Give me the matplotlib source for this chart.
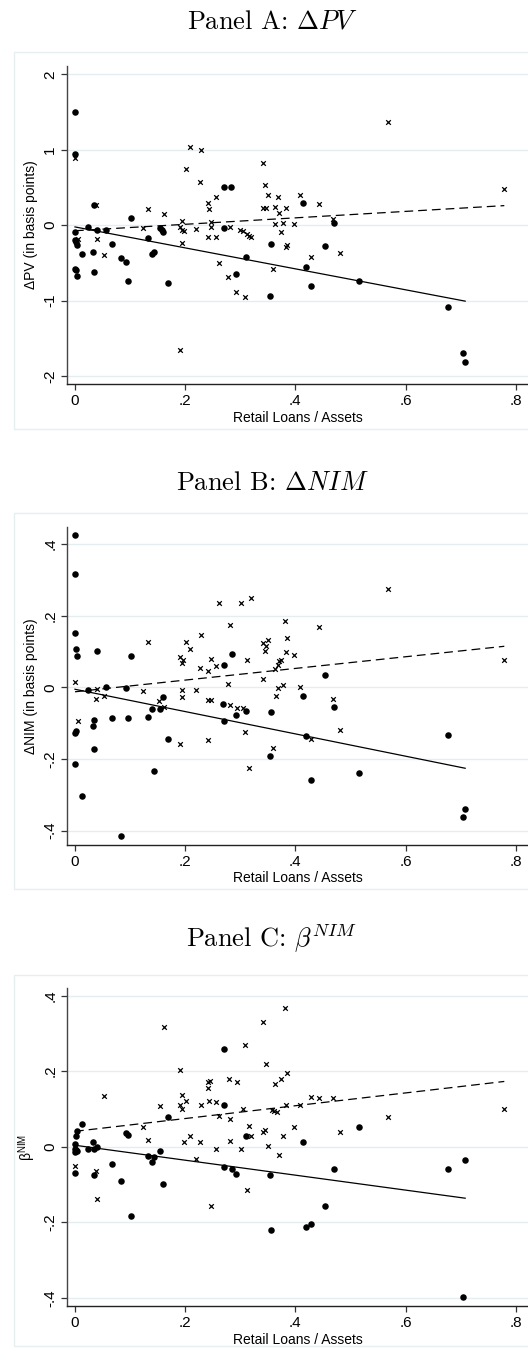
import numpy as np
import matplotlib
matplotlib.use("Agg")
from matplotlib import pyplot as plt
from matplotlib.patches import Rectangle

plt.rcParams['font.family'] = ['Liberation Sans', 'DejaVu Sans']
plt.rcParams['mathtext.fontset'] = 'cm'

# panel A: change in PV
a_dot_x = [0, 0, 0.034, 0.102, 0.270, 0.283, 0.414, 0.470,
           0, 0, 0.002, 0.004, 0, 0.002, 0.003,
           0.013, 0.024, 0.032, 0.034, 0.040, 0.057, 0.067, 0.084, 0.093, 0.097,
           0.132, 0.139, 0.144, 0.154, 0.158, 0.160, 0.168, 0.270, 0.293, 0.310,
           0.354, 0.355, 0.420, 0.429, 0.454, 0.516, 0.677, 0.704, 0.708]
a_dot_y = [1.50, 0.95, 0.27, 0.10, 0.50, 0.51, 0.29, 0.03,
           -0.09, -0.20, -0.22, -0.26, -0.58, -0.60, -0.68,
           -0.38, -0.03, -0.36, -0.62, -0.06, -0.07, -0.25, -0.43, -0.49, -0.74,
           -0.17, -0.38, -0.36, -0.04, -0.07, -0.09, -0.76, -0.04, -0.65, -0.42,
           -0.94, -0.25, -0.55, -0.81, -0.28, -0.74, -1.09, -1.69, -1.82]
a_x_x = [0, 0.039, 0.132, 0.162, 0.201, 0.209, 0.229, 0.226, 0.242, 0.243,
         0.256, 0.341, 0.345, 0.342, 0.346, 0.351, 0.368, 0.363, 0.371, 0.382,
         0.408, 0.443, 0.568, 0.779, 0.363, 0.378, 0.398, 0.195, 0.246, 0.469,
         0.005, 0.040, 0.053, 0.124, 0.190, 0.194, 0.197, 0.194, 0.190, 0.220,
         0.242, 0.255, 0.246, 0.261, 0.278, 0.281, 0.293, 0.308, 0.300, 0.305,
         0.312, 0.316, 0.319, 0.359, 0.374, 0.382, 0.385, 0.428, 0.480]
a_x_y = [0.89, 0.27, 0.22, 0.15, 0.74, 1.03, 1.00, 0.57, 0.30, 0.22,
         0.37, 0.83, 0.53, 0.23, 0.23, 0.40, 0.38, 0.24, 0.16, 0.23,
         0.40, 0.28, 1.37, 0.48, 0.02, 0.03, 0.02, 0.05, 0.04, 0.08,
         -0.18, -0.18, -0.40, -0.04, -0.02, -0.07, -0.08, -0.24, -1.65, -0.05,
         -0.16, -0.16, -0.02, -0.50, -0.69, -0.02, -0.89, -0.95, -0.07, -0.08,
         -0.12, -0.14, -0.15, -0.58, -0.09, -0.29, -0.26, -0.42, -0.37]

# panel B: change in NIM
b_dot_x = [0, 0, 0, 0.002, 0.004, 0.040, 0.102, 0.284, 0.270, 0.454,
           0, 0.001, 0, 0.012, 0.024, 0.032, 0.034, 0.034, 0.057, 0.067, 0.084,
           0.093, 0.097, 0.132, 0.139, 0.144, 0.154, 0.160, 0.168, 0.269, 0.270,
           0.293, 0.310, 0.354, 0.355, 0.414, 0.420, 0.429, 0.470, 0.516, 0.677,
           0.704, 0.708]
b_dot_y = [0.426, 0.316, 0.150, 0.106, 0.087, 0.100, 0.086, 0.093, 0.062, 0.035,
           -0.128, -0.123, -0.214, -0.302, -0.008, -0.107, -0.091, -0.172, 0.002,
           -0.087, -0.416, -0.002, -0.085, -0.084, -0.062, -0.233, -0.060, -0.027,
           -0.145, -0.046, -0.093, -0.078, -0.067, -0.192, -0.069, -0.025, -0.136,
           -0.258, -0.054, -0.238, -0.132, -0.361, -0.340]
b_x_x = [0.132, 0.201, 0.191, 0.196, 0.195, 0.209, 0.229, 0.226, 0.242, 0.246,
         0.255, 0.261, 0.282, 0.302, 0.319, 0.313, 0.341, 0.346, 0.345, 0.351,
         0.381, 0.385, 0.382, 0.398, 0.371, 0.374, 0.368, 0.363, 0.443, 0.568,
         0.779, 0.341,
         0, 0.005, 0.039, 0.040, 0.053, 0.124, 0.153, 0.162, 0.194, 0.194,
         0.190, 0.220, 0.242, 0.247, 0.242, 0.277, 0.281, 0.294, 0.305, 0.308,
         0.315, 0.364, 0.368, 0.378, 0.359, 0.408, 0.428, 0.469, 0.480]
b_x_y = [0.127, 0.125, 0.085, 0.076, 0.068, 0.108, 0.147, 0.054, 0.045, 0.078,
         0.060, 0.235, 0.173, 0.236, 0.250, 0.076, 0.123, 0.115, 0.101, 0.133,
         0.184, 0.138, 0.099, 0.090, 0.073, 0.076, 0.062, 0.050, 0.168, 0.273,
         0.075, 0.022,
         0.014, -0.093, -0.032, -0.005, -0.023, -0.010, -0.037, -0.054, -0.009,
         -0.026, -0.157, -0.008, -0.035, -0.036, -0.148, 0.009, -0.050, -0.058,
         -0.058, -0.124, -0.225, -0.025, -0.002, 0.007, -0.170, 0.002, -0.143,
         -0.033, -0.119]

# panel C: NIM beta
c_dot_x = [0.270, 0.270, 0.168,
           0, 0, 0.001, 0.003, 0, 0, 0.002, 0.004, 0.012, 0.024, 0.032, 0.034,
           0.034, 0.040, 0.067, 0.084, 0.093, 0.097, 0.102, 0.132, 0.139, 0.144,
           0.154, 0.160, 0.270, 0.284, 0.293, 0.310, 0.354, 0.355, 0.414, 0.420,
           0.429, 0.454, 0.470, 0.516, 0.677, 0.708, 0.704]
c_dot_y = [0.258, 0.111, 0.078,
           0.008, -0.005, -0.009, -0.012, -0.013, -0.070, 0.027, 0.042, 0.059,
           -0.006, 0.011, -0.006, -0.075, -0.002, -0.045, -0.090, 0.035, 0.031,
           -0.185, -0.025, -0.042, -0.027, -0.011, -0.098, -0.055, -0.059, -0.072,
           0.029, -0.076, -0.221, 0.011, -0.213, -0.204, -0.157, -0.059, 0.053,
           -0.058, -0.035, -0.398]
c_x_x = [0.162, 0.190, 0.195, 0.201, 0.191, 0.194, 0.154, 0.229, 0.243, 0.256,
         0.242, 0.245, 0.242, 0.280, 0.294, 0.308, 0.341, 0.346, 0.363, 0.373,
         0.385, 0.381, 0.382, 0.305, 0.358, 0.361, 0.367, 0.408, 0.428, 0.443,
         0.469, 0.053, 0.568, 0.779, 0.261, 0.282,
         0, 0.039, 0.040, 0.124, 0.132, 0.197, 0.209, 0.226, 0.220, 0.247,
         0.255, 0.281, 0.301, 0.315, 0.319, 0.312, 0.342, 0.345, 0.351, 0.371,
         0.378, 0.398, 0.480]
c_x_y = [0.316, 0.203, 0.136, 0.120, 0.109, 0.100, 0.108, 0.111, 0.120, 0.118,
         0.170, 0.174, 0.156, 0.180, 0.170, 0.269, 0.330, 0.218, 0.166, 0.178,
         0.196, 0.367, 0.109, 0.100, 0.098, 0.095, 0.092, 0.109, 0.132, 0.129,
         0.130, 0.133, 0.078, 0.099, 0.080, 0.072,
         -0.050, -0.064, -0.139, 0.053, 0.017, 0.012, 0.028, 0.011, -0.034,
         -0.157, -0.006, 0.016, -0.006, 0.055, 0.027, -0.115, 0.038, 0.044,
         0.001, -0.023, 0.028, 0.053, 0.038]

titles = [r"Panel A: $\Delta PV$",
          r"Panel B: $\Delta NIM$",
          r"Panel C: $\beta^{NIM}$"]
ylabels = ["ΔPV (in basis points)", "ΔNIM (in basis points)",
           r"$\mathregular{\beta^{NIM}}$"]
xticks = [0, 0.2, 0.4, 0.6, 0.8]
xticklabels = ["0", ".2", ".4", ".6", ".8"]
yticks_a = [-2, -1, 0, 1, 2]
yticklabels_a = ["-2", "-1", "0", "1", "2"]
yticks_bc = [-0.4, -0.2, 0, 0.2, 0.4]
yticklabels_bc = ["-.4", "-.2", "0", ".2", ".4"]

W, H = 528, 1356
fig = plt.figure(figsize=(W / 100, H / 100), dpi=100)

# pixel layout of each panel: (title y, border top, border bottom, axes top, axes bottom, ylim)
panels = [
    (a_dot_x, a_dot_y, a_x_x, a_x_y, yticks_a, yticklabels_a,
     22, 52, 429, 66, 384, (-2.105, 2.11)),
    (b_dot_x, b_dot_y, b_x_x, b_x_y, yticks_bc, yticklabels_bc,
     483, 513, 889, 527, 845, (-0.44, 0.447)),
    (c_dot_x, c_dot_y, c_x_x, c_x_y, yticks_bc, yticklabels_bc,
     938, 975, 1346, 988, 1306, (-0.422, 0.42)),
]

grid_col = "#e4eef0"
for i, (dx, dy, xx, xy, yt, ytl, ty, btop, bbot, atop, abot, ylim) in enumerate(panels):
    fig.text(272 / W, 1 - ty / H, titles[i], ha="center", va="center",
             fontsize=19, fontfamily="cmr10")
    fig.patches.append(Rectangle((14 / W, 1 - bbot / H), 1.0, (bbot - btop) / H,
                                 transform=fig.transFigure, fill=False,
                                 edgecolor="#e6eef0", lw=1.0))
    ax = fig.add_axes([67 / W, 1 - abot / H, (W - 67) / W, (abot - atop) / H])
    ax.set_xlim(-0.0145, 0.822)
    ax.set_ylim(*ylim)
    for t in yt:
        ax.axhline(t, color=grid_col, lw=1.0, zorder=0)

    ax.scatter(dx, dy, s=22, color="black", marker="o", lw=0, zorder=3)
    ax.scatter(xx, xy, s=11, color="black", marker="x", lw=0.9, zorder=3)

    # linear fits of each group over its x range
    dx_a, dy_a = np.array(dx), np.array(dy)
    k, b = np.polyfit(dx_a, dy_a, 1)
    xs = np.array([dx_a.min(), dx_a.max()])
    ax.plot(xs, k * xs + b, color="black", lw=0.9, zorder=2)
    xx_a, xy_a = np.array(xx), np.array(xy)
    k, b = np.polyfit(xx_a, xy_a, 1)
    xs = np.array([xx_a.min(), xx_a.max()])
    ax.plot(xs, k * xs + b, color="black", lw=0.9, ls=(0, (7, 4)), zorder=2)

    ax.set_xticks(xticks)
    ax.set_xticklabels(xticklabels, fontsize=11)
    ax.set_yticks(yt)
    ax.set_yticklabels(ytl, fontsize=11, rotation=90, va="center")
    ax.tick_params(direction="out", length=4, width=0.9, pad=3, color="#333333")
    ax.set_xlabel("Retail Loans / Assets", fontsize=10, labelpad=2)
    ax.set_ylabel(ylabels[i], fontsize=10, labelpad=4)
    for s in ["top", "right"]:
        ax.spines[s].set_visible(False)
    ax.spines["left"].set_color("#444444")
    ax.spines["bottom"].set_color("#222222")
    ax.spines["left"].set_linewidth(1.0)
    ax.spines["bottom"].set_linewidth(1.0)

fig.savefig("out.png", dpi=100)
